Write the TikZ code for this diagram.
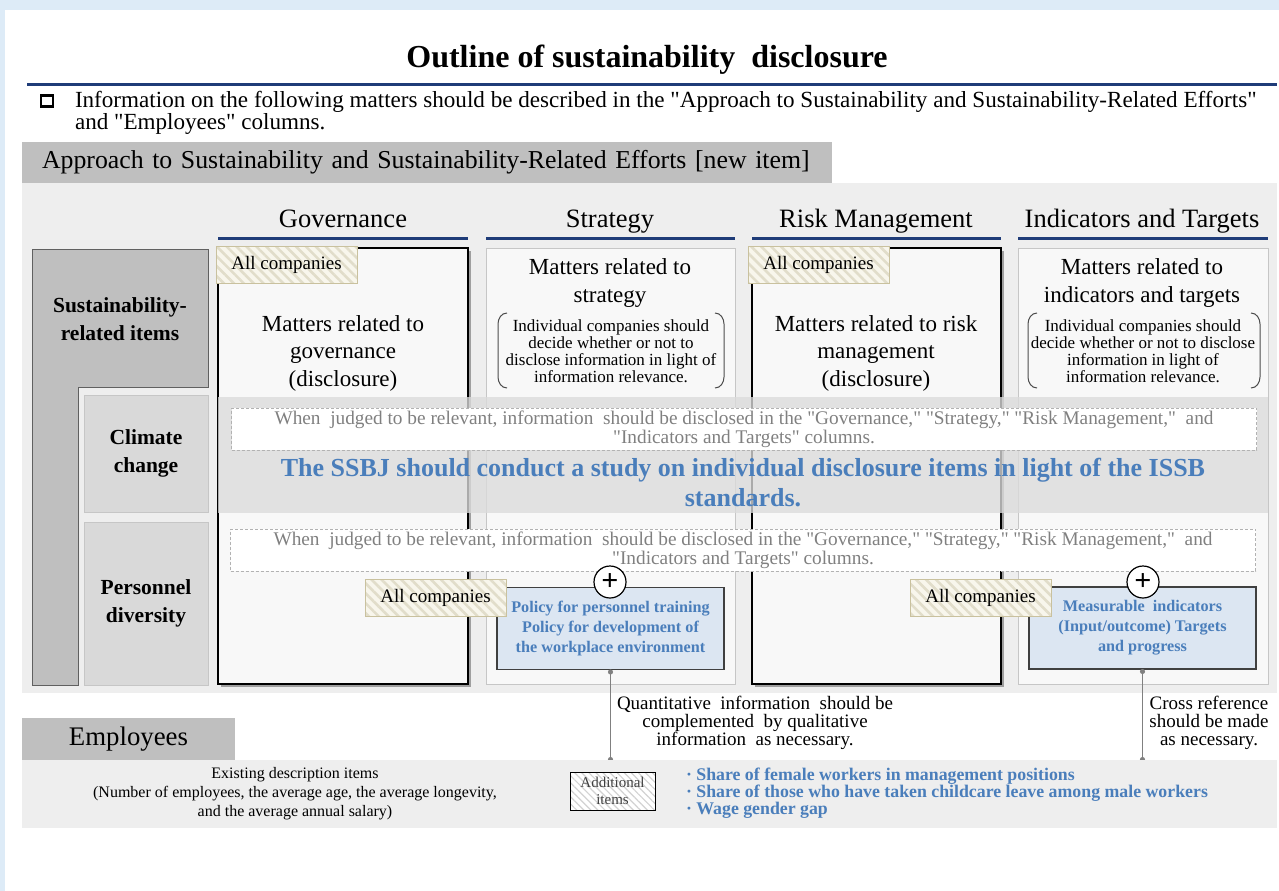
\documentclass[tikz,border=0pt]{standalone}
\usepackage{fontspec}
\setmainfont{Liberation Serif}[Ligatures=TeXOff]
\usetikzlibrary{patterns,patterns.meta,arrows.meta}
\definecolor{frameblue}{HTML}{DDEBF7}
\definecolor{navy}{HTML}{1F3C78}
\definecolor{hdrgray}{HTML}{BFBFBF}
\definecolor{bggray}{HTML}{EEEEEE}
\definecolor{colfill}{HTML}{F8F8F8}
\definecolor{lbgray}{HTML}{D9D9D9}
\definecolor{txtblue}{HTML}{4A7EBB}
\definecolor{boxblue}{HTML}{DCE6F2}
\definecolor{tagfill}{HTML}{F8F6EC}
\definecolor{tagline}{HTML}{C9C19E}
\definecolor{notegray}{HTML}{808080}
\newcommand{\fs}[2]{\fontsize{#1}{#2}\selectfont}
\begin{document}
\begin{tikzpicture}[x=1pt,y=-1pt,
  every node/.style={inner sep=0pt,outer sep=0pt},
  colhead/.style={font=\fs{26.5}{28},anchor=base},
  uline/.style={navy,line width=3},
  thickcol/.style={draw=black,line width=1.6,fill=colfill,minimum width=250,minimum height=436,anchor=north west},
  thincol/.style={draw=gray!45,line width=1,fill=colfill,minimum width=249,minimum height=436,anchor=north west},
  bodytxt/.style={font=\fs{23}{27.5},align=center},
  notetxt/.style={font=\fs{17}{17},align=center},
  leftlbl/.style={font=\fs{21.5}{28}\bfseries,align=center},
  tagbox/.style={preaction={fill=tagfill},pattern={Lines[angle=-45,distance=7pt,line width=2.6pt]},pattern color=tagline!55,
     draw=tagline,line width=1,minimum width=141,minimum height=37,anchor=north west,font=\fs{19}{20}},
  dashbox/.style={fill=white,draw=gray!60,dash pattern=on 3pt off 2pt,line width=0.8,minimum width=1025,minimum height=42,
     font=\fs{19.3}{19},text=notegray,align=center},
  bluebox/.style={fill=boxblue,draw=gray!50!black,line width=1.2,minimum width=227,minimum height=82,
     font=\fs{16.2}{20}\bfseries,text=txtblue,align=center},
  plus/.style={circle,fill=white,draw=black,line width=1.2,minimum size=32,font=\fs{30}{30}\bfseries},
  conn/.style={draw=gray,line width=1,{Circle[length=5pt]}-{Circle[length=5pt]}},
  bracket/.style={draw=gray!60!black,line width=1}
]
\useasboundingbox (0,0) rectangle (1279,891);
\fill[frameblue] (0,0) rectangle (1279,891);
\fill[white] (5,10) rectangle (1279,891);

% title
\node[font=\fs{32}{34}\bfseries,anchor=base] (title) at (647,67) {Outline of sustainability\ \ disclosure};
\draw[uline] (27,84) -- (1277,84);

% intro
\node[draw=black,line width=2.4,minimum width=12,minimum height=11] (chk) at (47,101) {};
\node[anchor=west,align=left,font=\fs{23.1}{22}] (intro) at (75,113)
  {Information on the following matters should be described in the "Approach to Sustainability and Sustainability-Related Efforts"\\ and "Employees" columns.};

% section header
\node[fill=hdrgray,anchor=north west,minimum height=41,text width=770,inner xsep=20,align=left,font=\fs{25.8}{28}]
  (apphdr) at (22,142) {Approach to Sustainability and Sustainability-Related Efforts [new item]};
\fill[bggray] (22,183) rectangle (1277,693);

% column headers
\node[colhead] (hgov) at (343,227) {Governance};
\node[colhead] (hstr) at (610,227) {Strategy};
\node[colhead] (hrisk) at (876,227) {Risk Management};
\node[colhead] (hind) at (1142,227) {Indicators and Targets};
\draw[uline] (218,238) -- (468,238);
\draw[uline] (486,238) -- (735,238);
\draw[uline] (752,238) -- (1001,238);
\draw[uline] (1018,238) -- (1268,238);

% column boxes
\fill[gray!75] (221,251) rectangle (471,687);
\node[thickcol] (cgov) at (218,248) {};
\node[thincol] (cstr) at (486,248) {};
\fill[gray!75] (755,251) rectangle (1004,687);
\node[thickcol,minimum width=249] (crisk) at (752,248) {};
\node[thincol,minimum width=250] (cind) at (1018,248) {};

% left labels
\draw[fill=hdrgray,draw=gray!75!black,line width=1]
  (32,249) -- (208,249) -- (208,387) -- (78,387) -- (78,685) -- (32,685) -- cycle;
\node[leftlbl] (lsus) at (120,319) {Sustainability-\\related items};
\node[fill=lbgray,draw=gray!45,line width=1,minimum width=124,minimum height=117] (lclim) at (146,453.5) {};
\node[leftlbl] at (lclim.center) {Climate\\change};
\node[fill=lbgray,draw=gray!45,line width=1,minimum width=124,minimum height=163] (lpers) at (146,603.5) {};
\node[leftlbl] at (lpers.center) {Personnel\\diversity};

% column contents
\node[bodytxt] (tgov) at (343,353) {Matters related to\\governance\\(disclosure)};
\node[bodytxt] (trisk) at (876,353) {Matters related to risk\\management\\(disclosure)};
\node[bodytxt] (tstr) at (610,283) {Matters related to\\strategy};
\node[bodytxt] (tind) at (1142,283) {Matters related to\\indicators and targets};
\node[notetxt] (nstr) at (611,351) {Individual companies should\\decide whether or not to\\disclose information in light of\\information relevance.};
\node[notetxt] (nind) at (1143,351) {Individual companies should\\decide whether or not to disclose\\information in light of\\information relevance.};
\draw[bracket] (507,313) to[out=180,in=90] (498,324) -- (498,377) to[out=-90,in=180] (507,388);
\draw[bracket] (715,313) to[out=0,in=90] (724,324) -- (724,377) to[out=-90,in=0] (715,388);
\draw[bracket] (1037,313) to[out=180,in=90] (1028,324) -- (1028,377) to[out=-90,in=180] (1037,388);
\draw[bracket] (1251,313) to[out=0,in=90] (1260,324) -- (1260,377) to[out=-90,in=0] (1251,388);

% climate band
\fill[gray!28,fill opacity=0.78] (218,397) rectangle (1268,513);
\node[dashbox] (dclim) at (744,429) {When\ \ judged to be relevant, information\ \ should be disclosed in the "Governance," "Strategy," "Risk Management,"\ \ and\\"Indicators and Targets" columns.};
\node[font=\fs{26}{30}\bfseries,text=txtblue,align=center] (ssbj) at (743,483)
  {The SSBJ should conduct a study on individual disclosure items in light of the ISSB\\standards.};

% personnel band
\node[dashbox] (dpers) at (743,550) {When\ \ judged to be relevant, information\ \ should be disclosed in the "Governance," "Strategy," "Risk Management,"\ \ and\\"Indicators and Targets" columns.};

% blue boxes
\node[bluebox] (pol) at (610.5,628.5) {Policy for personnel training\\Policy for development of\\the workplace environment};
\node[bluebox] (meas) at (1142.5,628) {Measurable\ \ indicators\\(Input/outcome) Targets\\and progress};
\node[tagbox] (tag1) at (216,246) {All companies};
\node[tagbox] (tag2) at (748,246) {All companies};
\node[tagbox] (tag3) at (365,579) {All companies};
\node[tagbox] (tag4) at (910,579) {All companies};
\node[plus] (plus1) at (610,582) {+};
\node[plus] (plus2) at (1143,582) {+};

% connectors
\coordinate (e1) at (610.5,762);
\coordinate (e2) at (1142.5,762);
\draw[conn] (pol.south) -- (e1);
\draw[conn] (meas.south) -- (e2);
\node[font=\fs{19}{18},align=center] (quant) at (755,723) {Quantitative\ \ information\ \ should be\\complemented\ \ by qualitative\\information\ \ as necessary.};
\node[font=\fs{19}{18},align=center] (cross) at (1209,723) {Cross reference\\should be made\\as necessary.};

% employees
\node[fill=hdrgray,anchor=north west,minimum width=213,minimum height=42,font=\fs{26.8}{28}] (emp) at (22,718) {Employees};
\fill[bggray] (22,760) rectangle (1277,828);
\node[font=\fs{16}{19},align=center] (exist) at (295,794) {Existing description items\\(Number of employees, the average age, the average longevity,\\and the average annual salary)};
\node[preaction={fill=white},pattern={Lines[angle=-45,distance=5pt,line width=1.2pt]},pattern color=gray!35,draw=black,line width=0.8,
  minimum width=85,minimum height=38,font=\fs{15}{17},align=center,text=black!75] (addl) at (612.5,791) {Additional\\items};
\node[anchor=west,align=left,font=\fs{17.8}{17}\bfseries,text=txtblue] (bul) at (686,793)
  {· Share of female workers in management positions\\· Share of those who have taken childcare leave among male workers\\· Wage gender gap};
\end{tikzpicture}
\end{document}
